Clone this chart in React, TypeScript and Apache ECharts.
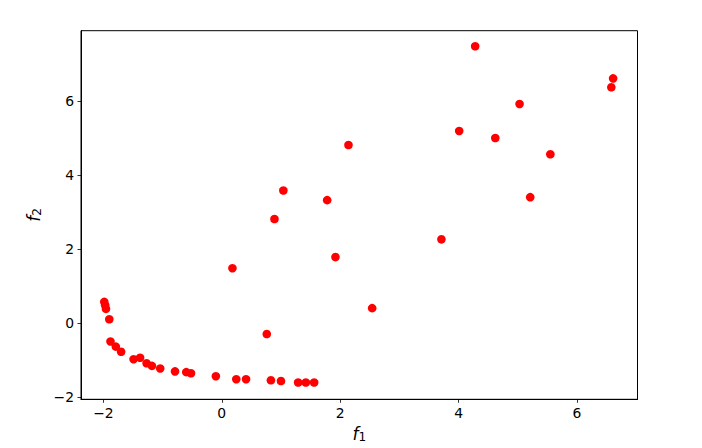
import React, { useEffect, useRef } from "react";
import * as echarts from "echarts";

const f1Values: number[] = [
  -1.985, -1.97, -1.956, -1.9, -1.88, -1.79, -1.7, -1.49, -1.38, -1.27, -1.18, -1.04,
  -0.79, -0.6, -0.52, -0.1, 0.245, 0.41, 0.76, 0.83, 1.0, 1.29, 1.42, 1.56,
  2.54, 2.14, 1.04, 1.78, 0.89, 0.18, 1.92, 4.28, 6.61, 6.58, 5.03, 4.01,
  4.62, 5.55, 5.21, 3.71,
];
const f2Values: number[] = [
  0.58, 0.49, 0.39, 0.11, -0.49, -0.63, -0.77, -0.97, -0.93, -1.08, -1.15, -1.22,
  -1.3, -1.32, -1.35, -1.43, -1.51, -1.51, -0.29, -1.54, -1.56, -1.6, -1.6, -1.6,
  0.41, 4.82, 3.59, 3.33, 2.82, 1.49, 1.79, 7.49, 6.62, 6.38, 5.93, 5.2,
  5.01, 4.57, 3.41, 2.27,
];
const xTicks: number[] = [-2, 0, 2, 4, 6];
const yTicks: number[] = [-2, 0, 2, 4, 6];

const fmt = (v: number) => (v < 0 ? "\u2212" + Math.abs(v) : String(v));

export default function App() {
  const ref = useRef<HTMLDivElement>(null);
  useEffect(() => {
    if (!ref.current) return;
    const chart = echarts.init(ref.current, undefined, { renderer: "svg" });
    const data = f1Values.map((x, i) => [x, f2Values[i]]);
    const font = "DejaVu Sans";
    const axisCommon = {
      axisLine: { show: true, onZero: false, lineStyle: { color: "#000", width: 1 } },
      splitLine: { show: false },
      axisTick: { show: true, inside: false, length: 3.5, lineStyle: { color: "#000", width: 0.8 } },
      axisLabel: {
        color: "#000",
        fontFamily: font,
        fontSize: 13.9,
        margin: 7,
        formatter: (v: number) => fmt(v),
      },
    };
    const nameRich = {
      f: { fontFamily: font, fontStyle: "italic", fontSize: 17, color: "#000" },
      s: { fontFamily: font, fontSize: 12, color: "#000", padding: [6, 0, 0, 0] },
    };
    chart.setOption({
      animation: false,
      backgroundColor: "#fff",
      grid: {
        left: 81,
        right: 64.5,
        top: 30.7,
        bottom: 48.7,
        containLabel: false,
        outerBoundsMode: "none",
        show: true,
        borderColor: "#000",
        borderWidth: 1,
        backgroundColor: "transparent",
      },
      xAxis: {
        type: "value",
        min: -2.378,
        max: 7.022,
        ...axisCommon,
        axisTick: { ...axisCommon.axisTick, customValues: xTicks },
        axisLabel: { ...axisCommon.axisLabel, customValues: xTicks },
        name: "{f|f}{s|1}",
        nameLocation: "middle",
        nameGap: 26,
        nameTextStyle: { rich: nameRich },
      },
      yAxis: {
        type: "value",
        min: -2.054,
        max: 7.91,
        ...axisCommon,
        axisTick: { ...axisCommon.axisTick, customValues: yTicks },
        axisLabel: { ...axisCommon.axisLabel, customValues: yTicks },
        name: "{f|f}{s|2}",
        nameLocation: "middle",
        nameGap: 37,
        nameRotate: 90,
        nameTextStyle: { rich: nameRich },
      },
      series: [
        {
          type: "scatter",
          data,
          symbol: "circle",
          symbolSize: 8.6,
          itemStyle: { color: "#ff0000", opacity: 1 },
        },
      ],
    });
    return () => chart.dispose();
  }, []);
  return <div ref={ref} style={{ width: 702, height: 448, position: "absolute", left: 0, top: 0 }} />;
}
